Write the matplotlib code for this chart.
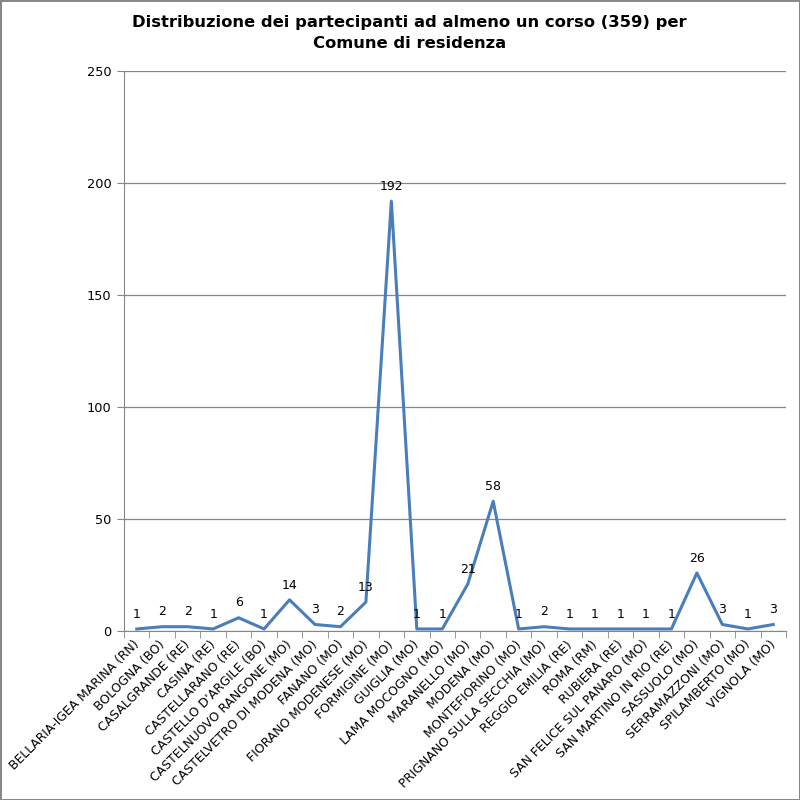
import numpy as np
import matplotlib.pyplot as plt
import matplotlib.transforms as mtrans

comuni = ["BELLARIA-IGEA MARINA (RN)", "BOLOGNA (BO)", "CASALGRANDE (RE)", "CASINA (RE)",
          "CASTELLARANO (RE)", "CASTELLO D'ARGILE (BO)", "CASTELNUOVO RANGONE (MO)",
          "CASTELVETRO DI MODENA (MO)", "FANANO (MO)", "FIORANO MODENESE (MO)",
          "FORMIGINE (MO)", "GUIGLIA (MO)", "LAMA MOCOGNO (MO)", "MARANELLO (MO)",
          "MODENA (MO)", "MONTEFIORINO (MO)", "PRIGNANO SULLA SECCHIA (MO)",
          "REGGIO EMILIA (RE)", "ROMA (RM)", "RUBIERA (RE)", "SAN FELICE SUL PANARO (MO)",
          "SAN MARTINO IN RIO (RE)", "SASSUOLO (MO)", "SERRAMAZZONI (MO)",
          "SPILAMBERTO (MO)", "VIGNOLA (MO)"]
partecipanti = [1, 2, 2, 1, 6, 1, 14, 3, 2, 13, 192, 1, 1, 21, 58, 1, 2, 1, 1, 1, 1, 1, 26, 3, 1, 3]

fig = plt.figure(figsize=(8, 8), dpi=100)
fig.patch.set_edgecolor('#888888')
fig.patch.set_linewidth(1.0)
ax = fig.add_axes([0.155, 0.211, 0.8275, 0.7])

x = np.arange(len(comuni))
ax.plot(x, partecipanti, color='#4a7ebb', lw=2.2)
for xi, v in zip(x, partecipanti):
    ax.annotate(str(v), (xi, v), xytext=(0, 6), textcoords='offset points',
                ha='center', va='bottom', fontsize=9)

ax.set_xlim(-0.5, len(comuni) - 0.5)
ax.set_ylim(0, 250)
ax.set_yticks(range(0, 251, 50))
ax.yaxis.grid(True, color='#868686', lw=0.9)
ax.set_axisbelow(True)

ax.set_xticks(x)
ax.set_xticklabels(comuni, rotation=45, ha='right', va='top', rotation_mode='anchor', fontsize=8.9)
ax.tick_params(axis='x', length=0, pad=5)
shift = mtrans.ScaledTranslation(-4 / 100, 0, fig.dpi_scale_trans)
for lab in ax.get_xticklabels():
    lab.set_transform(lab.get_transform() + shift)
ax.set_xticks(np.arange(-0.5, len(comuni), 1), minor=True)
ax.tick_params(axis='x', which='minor', length=5, color='#868686', direction='out')
ax.tick_params(axis='y', length=5, color='#868686', labelsize=9.3, pad=4)

for s in ['top', 'right']:
    ax.spines[s].set_visible(False)
for s in ['left', 'bottom']:
    ax.spines[s].set_color('#868686')

fig.text(0.512, 0.981, "Distribuzione dei partecipanti ad almeno un corso (359) per\nComune di residenza",
         ha='center', va='top', fontsize=11.8, fontweight='bold', linespacing=1.45)

fig.savefig('out.png', dpi=100, edgecolor=fig.get_edgecolor())
